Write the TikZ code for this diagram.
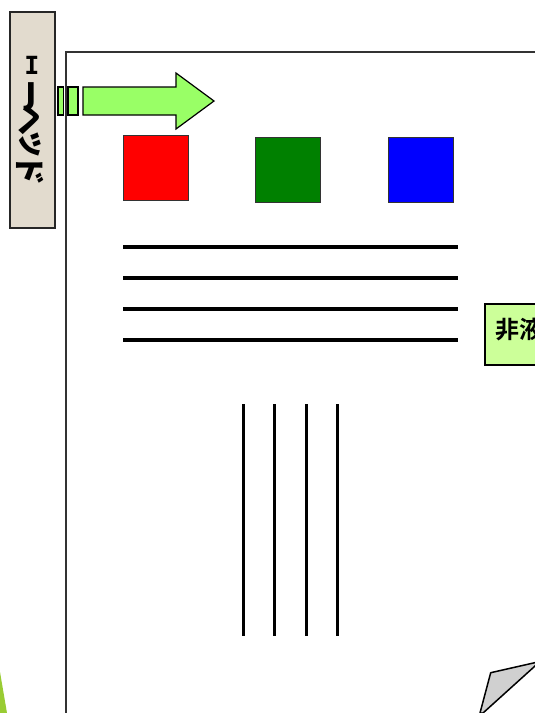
\documentclass[tikz,border=0pt]{standalone}
\usepackage{fontspec}
\newfontfamily\cjk{Noto Sans CJK JP Black}
\newfontfamily\cjkb{Noto Sans CJK JP Bold}
\newfontfamily\monoI{DejaVu Sans Mono Bold}
\newfontfamily\latJ{DejaVu Sans Bold}
\definecolor{headbg}{RGB}{226,219,206}
\definecolor{arrowgreen}{RGB}{153,255,102}
\definecolor{sqred}{RGB}{255,0,0}
\definecolor{sqgreen}{RGB}{0,128,0}
\definecolor{sqblue}{RGB}{0,0,255}
\definecolor{lblgreen}{RGB}{204,255,153}
\definecolor{sliver}{RGB}{153,204,51}
\definecolor{foldgrey}{RGB}{208,208,208}
\begin{document}
\begin{tikzpicture}[x=1pt,y=-1pt,
  sq/.style={draw=black!80,line width=1.4pt,minimum size=65pt,inner sep=0pt,anchor=north west},
  hline/.style={line width=3.2pt,black},
  vline/.style={line width=3pt,black},
  garrow/.style={fill=arrowgreen,draw=black,line width=1.2pt},
  glyph/.style={inner sep=0pt,font=\cjk\fontsize{31}{31}\selectfont}]
\useasboundingbox (0,0) rectangle (535,713);
\clip (0,0) rectangle (535,713);
\fill[white] (0,0) rectangle (535,713);
% page
\draw[line width=1.6pt,black!80] (66,740) -- (66,52) -- (560,52);
% IJ head box
\node[draw=black!85,line width=1.5pt,fill=headbg,
  minimum width=45pt,minimum height=216pt,inner sep=0pt,anchor=north west] (head) at (9,11) {};
\node[inner sep=0pt,font=\monoI\fontsize{25}{25}\selectfont] (cI) at (32,65) {\raisebox{0pt}[0.72em][0pt]{I}};
\node[inner sep=0pt,font=\latJ\fontsize{30}{30}\selectfont] (cJ) at (31,94) {\raisebox{0pt}[0.72em][0pt]{J}};
\node[glyph,rotate=-90] (cHe) at (29,120) {ヘ};
\node[glyph,rotate=-90] (cTsu) at (30,143.5) {ッ};
\node[glyph,rotate=-90] (cDo) at (30,170) {ド};
% green arrow
\draw[garrow] (58,87) rectangle (63.5,115);
\draw[garrow] (68,87) rectangle (78,115);
\draw[garrow] (83,87) -- (176,87) -- (176,73) -- (214,101) -- (176,129) -- (176,115) -- (83,115) -- cycle;
% colour squares
\node[sq,fill=sqred] (red) at (122.7,135) {};
\node[sq,fill=sqgreen] (green) at (255,136.7) {};
\node[sq,fill=sqblue] (blue) at (387.5,136.5) {};
% horizontal lines
\foreach \yy in {247,278,309,340} \draw[hline] (123,\yy) -- (458,\yy);
% vertical lines
\foreach \xx in {243,274,306,337} \draw[vline] (\xx,404) -- (\xx,636);
% right label box
\node[draw=black,line width=2.2pt,fill=lblgreen,
  minimum height=61pt,minimum width=120pt,anchor=north west,inner sep=0pt] (lbl) at (483.5,302.5) {};
\node[inner sep=0pt,anchor=west,font=\cjkb\fontsize{24}{24}\selectfont] (lbltxt) at (495.5,330) {非液体};
% bottom-left green sliver
\fill[sliver] (0,672) -- (7,713) -- (0,713) -- cycle;
% bottom-right folded corner
\draw[fill=foldgrey,line width=1.5pt,line join=round]
  (490.7,672.7) -- (540,661.5) -- (483,713) -- (480,713) -- cycle;
\end{tikzpicture}
\end{document}
